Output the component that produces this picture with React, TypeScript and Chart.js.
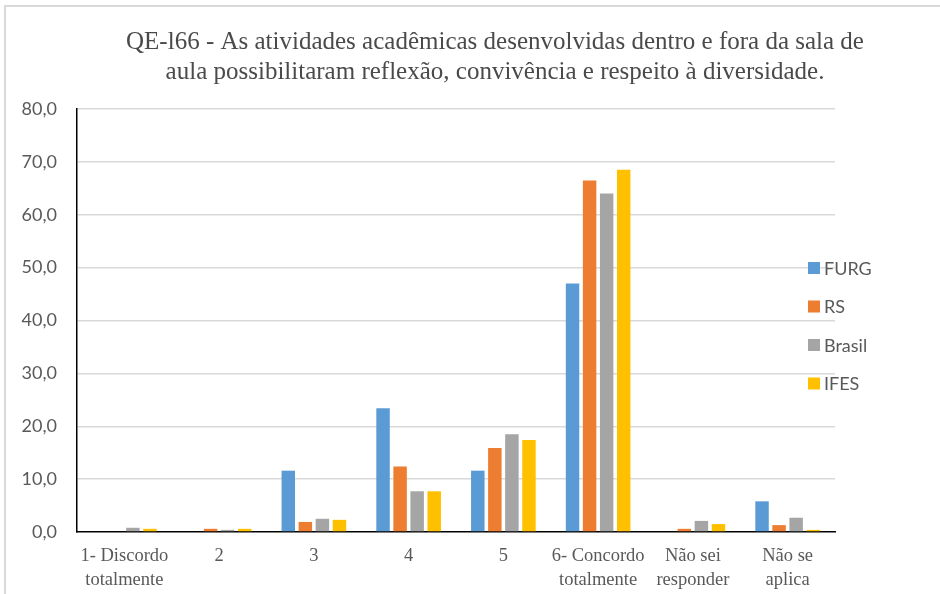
import React, { useEffect, useRef } from "react";
import { Chart, registerables } from "chart.js";

Chart.register(...registerables);

const titleLines = [
  "QE-l66 - As atividades acadêmicas desenvolvidas dentro e fora da sala de",
  "aula possibilitaram reflexão, convivência e respeito à diversidade.",
];
const categories = [
  ["1- Discordo", "totalmente"],
  "2",
  "3",
  "4",
  "5",
  ["6- Concordo", "totalmente"],
  ["Não sei", "responder"],
  ["Não se", "aplica"],
];
const seriesNames = ["FURG", "RS", "Brasil", "IFES"];
const seriesColors = ["#5B9BD5", "#ED7D31", "#A5A5A5", "#FFC000"];
const furg = [0, 0, 11.6, 23.4, 11.6, 47.0, 0, 5.8];
const rs = [0, 0.6, 1.9, 12.4, 15.9, 66.5, 0.6, 1.3];
const brasil = [0.8, 0.4, 2.5, 7.7, 18.5, 64.0, 2.1, 2.7];
const ifes = [0.6, 0.6, 2.3, 7.7, 17.4, 68.5, 1.5, 0.4];
const seriesValues = [furg, rs, brasil, ifes];
const yMin = 0;
const yMax = 80;
const yStep = 10;

const decorPlugin = {
  id: "decor",
  beforeDraw(chart: any) {
    const ctx = chart.ctx;
    ctx.save();
    ctx.fillStyle = "#ffffff";
    ctx.fillRect(0, 0, chart.width, chart.height);
    ctx.strokeStyle = "#d9d9d9";
    ctx.lineWidth = 2;
    ctx.strokeRect(5, 6, chart.width + 20, chart.height + 20);
    ctx.restore();
  },
  afterDraw(chart: any) {
    const ctx = chart.ctx;
    const area = chart.chartArea;
    ctx.save();
    // title
    ctx.fillStyle = "#4a4a4a";
    ctx.font = "25px 'Liberation Serif', serif";
    ctx.textAlign = "center";
    ctx.textBaseline = "middle";
    titleLines.forEach((line, i) => {
      ctx.fillText(line, 495, 42 + i * 30);
    });
    // legend
    ctx.font = "18px Lato, 'Liberation Sans', sans-serif";
    ctx.textAlign = "left";
    const startY = 268;
    chart.data.datasets.forEach((ds: any, i: number) => {
      const y = startY + i * 38.5;
      ctx.fillStyle = ds.backgroundColor;
      ctx.fillRect(area.right - 27, y - 6, 12, 12);
      ctx.fillStyle = "#595959";
      ctx.fillText(ds.label, area.right - 11, y + 1);
    });
    ctx.restore();
  },
};

export default function App() {
  const ref = useRef<HTMLCanvasElement>(null);
  useEffect(() => {
    document.body.style.margin = "0";
    const chart = new Chart(ref.current!, {
      type: "bar",
      data: {
        labels: categories as any,
        datasets: seriesNames.map((name, i) => ({
          label: name,
          data: seriesValues[i],
          backgroundColor: seriesColors[i],
          borderWidth: 0,
          categoryPercentage: 0.72,
          barPercentage: 0.79,
        })),
      },
      options: {
        animation: false,
        responsive: false,
        maintainAspectRatio: false,
        layout: { padding: { left: 0, right: 105, top: 109, bottom: 0 } },
        plugins: {
          legend: { display: false },
          title: { display: false },
          tooltip: { enabled: false },
        },
        scales: {
          x: {
            grid: { display: false },
            border: { display: true, color: "#000000", width: 1.5 },
            ticks: {
              color: "#595959",
              font: { family: "'Liberation Serif', serif", size: 18.5, lineHeight: 1.25 },
              padding: 5,
              maxRotation: 0,
              autoSkip: false,
            },
            afterFit: (s: any) => {
              s.height = 62;
            },
          },
          y: {
            min: yMin,
            max: yMax,
            grid: {
              color: (c: any) => (c.tick && c.tick.value === 0 ? "rgba(0,0,0,0)" : "#d9d9d9"),
              lineWidth: 1.5,
              drawTicks: false,
            },
            border: { display: true, color: "#000000", width: 1.5 },
            ticks: {
              stepSize: yStep,
              color: "#595959",
              font: { family: "Lato, 'Liberation Sans', sans-serif", size: 18 },
              padding: 20,
              callback: (v: any) => Number(v).toFixed(1).replace(".", ","),
            },
            afterFit: (s: any) => {
              s.width = 77;
            },
          },
        },
      },
      plugins: [decorPlugin],
    });
    return () => chart.destroy();
  }, []);
  return (
    <div style={{ width: 940, height: 594 }}>
      <canvas ref={ref} width={940} height={594} style={{ display: "block" }} />
    </div>
  );
}
